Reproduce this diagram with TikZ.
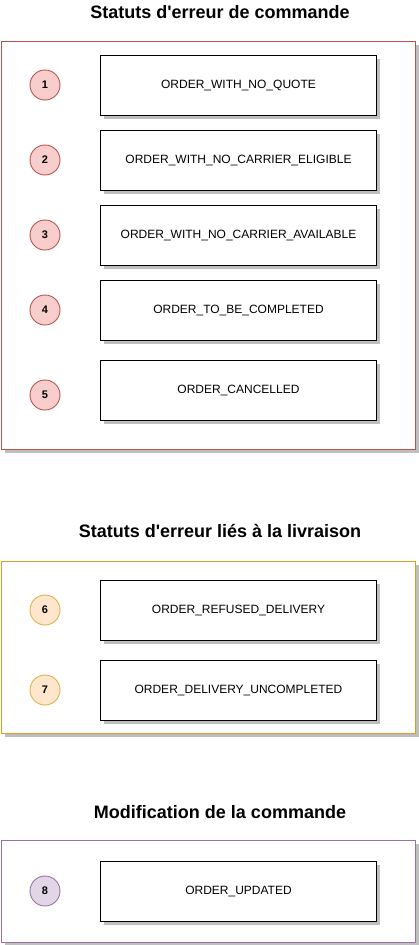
\documentclass[tikz,border=0pt]{standalone}
\usepackage{fontspec}
\setmainfont{Liberation Sans}

\definecolor{errred}{HTML}{B85450}
\definecolor{errredfill}{HTML}{F8CECC}
\definecolor{delorange}{HTML}{D6A01E}
\definecolor{delorangedraw}{HTML}{E0B050}
\definecolor{delorangefill}{HTML}{FFE6CC}
\definecolor{modpurple}{HTML}{9673A6}
\definecolor{modpurplefill}{HTML}{E1D5E7}

\begin{document}
\begin{tikzpicture}[x=1pt, y=-1pt]
	% Define styles
	\tikzstyle{boxshadow} = [preaction={fill=black!25, transform canvas={xshift=3pt, yshift=-3pt}}]
	\tikzstyle{title} = [font=\bfseries\fontsize{18}{21}\selectfont, anchor=center]
	\tikzstyle{group} = [rectangle, fill=white, boxshadow, line width=1.2pt, inner sep=0pt]
	\tikzstyle{status} = [rectangle, draw=black, fill=white, boxshadow, line width=1pt,
	minimum width=276pt, minimum height=60pt, font=\fontsize{12}{14}\selectfont]
	\tikzstyle{num} = [circle, line width=0.9pt, minimum size=30pt, inner sep=0pt,
	font=\bfseries\fontsize{11}{13}\selectfont]
	
	\useasboundingbox (0,0) rectangle (418,945);
	
	% Order errors
	\node [title] (ordertitle) at (220,12) {Statuts d\textquotesingle erreur de commande};
	\node [group, draw=errred, minimum width=414pt, minimum height=408pt] (ordergroup) at (208.5,245.5) {};
	\node [status] (status1) at (238.5,85.5) {ORDER\_WITH\_NO\_QUOTE};
	\node [status] (status2) at (238.5,160.5) {ORDER\_WITH\_NO\_CARRIER\_ELIGIBLE};
	\node [status] (status3) at (238.5,235.5) {ORDER\_WITH\_NO\_CARRIER\_AVAILABLE};
	\node [status] (status4) at (238.5,310.5) {ORDER\_TO\_BE\_COMPLETED};
	\node [status] (status5) at (238.5,390.5) {ORDER\_CANCELLED};
	\node [num, draw=errred, fill=errredfill] (num1) at (45,85) {1};
	\node [num, draw=errred, fill=errredfill] (num2) at (45,160) {2};
	\node [num, draw=errred, fill=errredfill] (num3) at (45,235) {3};
	\node [num, draw=errred, fill=errredfill] (num4) at (45,310) {4};
	\node [num, draw=errred, fill=errredfill] (num5) at (45,395) {5};
	
	% Delivery errors
	\node [title] (deliverytitle) at (220,531) {Statuts d\textquotesingle erreur liés à la livraison};
	\node [group, draw=delorange, minimum width=414pt, minimum height=172pt] (deliverygroup) at (208.5,647.5) {};
	\node [status] (status6) at (238.5,610.5) {ORDER\_REFUSED\_DELIVERY};
	\node [status] (status7) at (238.5,690.5) {ORDER\_DELIVERY\_UNCOMPLETED};
	\node [num, draw=delorangedraw, fill=delorangefill] (num6) at (45,610) {6};
	\node [num, draw=delorangedraw, fill=delorangefill] (num7) at (45,690) {7};
	
	% Order update
	\node [title] (updatetitle) at (220,812) {Modification de la commande};
	\node [group, draw=modpurple, minimum width=414pt, minimum height=102pt] (updategroup) at (208.5,891.5) {};
	\node [status] (status8) at (238.5,891.5) {ORDER\_UPDATED};
	\node [num, draw=modpurple, fill=modpurplefill] (num8) at (45,891) {8};
\end{tikzpicture}
\end{document}
